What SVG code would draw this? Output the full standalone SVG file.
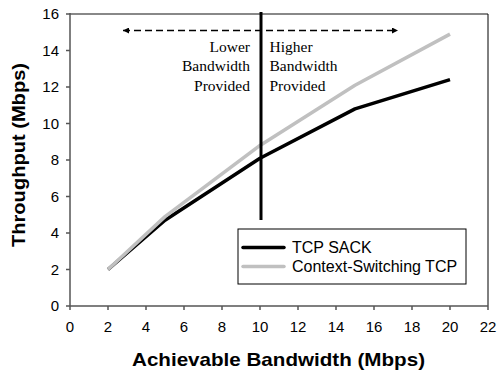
<svg xmlns="http://www.w3.org/2000/svg" width="497" height="370" viewBox="0 0 497 370">
<defs>
<style>
.tick{font-family:"Liberation Sans",Arial,sans-serif;font-size:15px;fill:#000}
.title{font-family:"Liberation Sans",Arial,sans-serif;font-size:19px;font-weight:bold;fill:#000}
.leg{font-family:"Liberation Sans",Arial,sans-serif;font-size:16px;fill:#000}
.ann{font-family:"Liberation Serif","Times New Roman",serif;font-size:15.5px;fill:#000}
.ax{stroke:#555;stroke-width:1.5;fill:none}
.sack{stroke:#000;stroke-width:3.5;fill:none;stroke-linejoin:round}
.cs{stroke:#c0c0c0;stroke-width:3.5;fill:none;stroke-linejoin:round}
</style>
<marker id="ah" viewBox="0 0 10 10" refX="10" refY="5" markerWidth="8" markerHeight="6" markerUnits="userSpaceOnUse" orient="auto-start-reverse">
<path d="M0,0 L10,5 L0,10 z" fill="#000"/>
</marker>
</defs>
<rect width="497" height="370" fill="#fff"/>
<g id="axes">
<line x1="70" y1="14" x2="488" y2="14" stroke="#888" stroke-width="2"/>
<line x1="488" y1="14" x2="488" y2="306" stroke="#000" stroke-width="1"/>
<line class="ax" x1="70" y1="13" x2="70" y2="306"/>
<line class="ax" x1="70" y1="306" x2="488" y2="306"/>
<path class="ax" d="M66,306H70M66,269.5H70M66,233H70M66,196.5H70M66,160H70M66,123.5H70M66,87H70M66,50.5H70M66,14H70"/>
<path class="ax" d="M70,306V310M108,306V310M146,306V310M184,306V310M222,306V310M260,306V310M298,306V310M336,306V310M374,306V310M412,306V310M450,306V310M488,306V310"/>
</g>
<g id="ytick-labels" class="tick" text-anchor="end">
<text x="59" y="311.3">0</text>
<text x="59" y="274.8">2</text>
<text x="59" y="238.3">4</text>
<text x="59" y="201.8">6</text>
<text x="59" y="165.3">8</text>
<text x="59" y="128.8">10</text>
<text x="59" y="92.3">12</text>
<text x="59" y="55.8">14</text>
<text x="59" y="19.3">16</text>
</g>
<g id="xtick-labels" class="tick" text-anchor="middle">
<text x="70" y="332">0</text>
<text x="108" y="332">2</text>
<text x="146" y="332">4</text>
<text x="184" y="332">6</text>
<text x="222" y="332">8</text>
<text x="260" y="332">10</text>
<text x="298" y="332">12</text>
<text x="336" y="332">14</text>
<text x="374" y="332">16</text>
<text x="412" y="332">18</text>
<text x="450" y="332">20</text>
<text x="488" y="332">22</text>
</g>
<text id="ytitle" class="title" text-anchor="middle" transform="translate(25,155) rotate(-90)" textLength="184" lengthAdjust="spacingAndGlyphs">Throughput (Mbps)</text>
<text id="xtitle" class="title" text-anchor="middle" x="278.5" y="366" textLength="293" lengthAdjust="spacingAndGlyphs">Achievable Bandwidth (Mbps)</text>
<g id="series">
<polyline class="sack" points="108,269.5 165,220.2 260,158.2 355,108.9 450,79.7"/>
<polyline class="cs" points="108,269.5 165,216.6 260,145.4 355,85.2 450,34.1"/>
</g>
<g id="connectors">
<line x1="123" y1="30.5" x2="398" y2="30.5" stroke="#000" stroke-width="1.5" stroke-dasharray="7,4" marker-start="url(#ah)" marker-end="url(#ah)"/>
<line x1="261" y1="12" x2="261" y2="220" stroke="#000" stroke-width="3"/>
</g>
<g id="lower-label" class="ann" text-anchor="end">
<text x="250" y="51.5">Lower</text>
<text x="250" y="71">Bandwidth</text>
<text x="250" y="90.5">Provided</text>
</g>
<g id="higher-label" class="ann" text-anchor="start">
<text x="269.5" y="51.5">Higher</text>
<text x="269.5" y="71">Bandwidth</text>
<text x="269.5" y="90.5">Provided</text>
</g>
<g id="legend">
<rect x="238" y="229" width="228" height="55" fill="#fff" stroke="#000" stroke-width="1"/>
<line class="sack" x1="243" y1="247.5" x2="284" y2="247.5" stroke-linecap="round"/>
<line class="cs" x1="243" y1="266.5" x2="284" y2="266.5" stroke-linecap="round"/>
<text class="leg" x="292" y="253">TCP SACK</text>
<text class="leg" x="292" y="272">Context-Switching TCP</text>
</g>
</svg>
